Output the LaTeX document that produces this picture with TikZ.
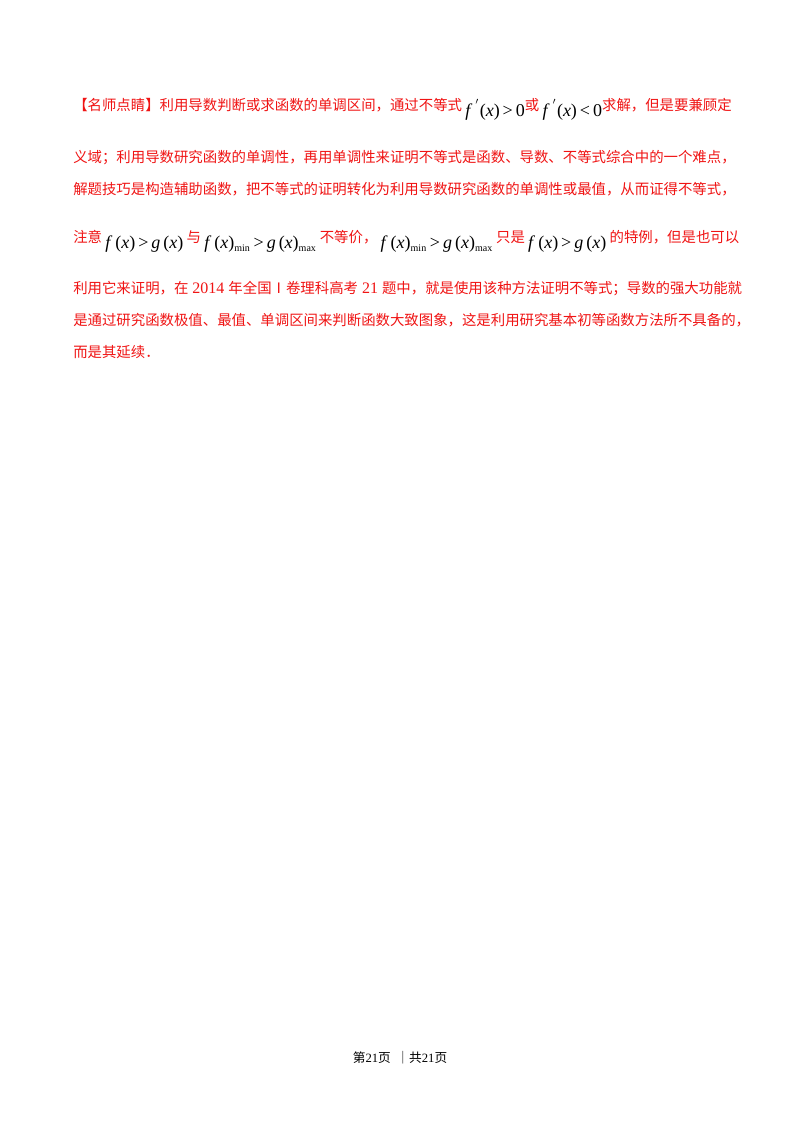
\documentclass[tikz,border=0pt]{standalone}
\usepackage{fontspec}
\setmainfont{Liberation Serif}
\newfontfamily\cjk{Noto Sans CJK SC}
\newcommand{\mth}[1]{\raisebox{-5pt}{\color{black}\rmfamily\fontsize{13.5pt}{16pt}\selectfont #1}}
\newcommand{\fx}{\textit{f}\,(\textit{x})}
\newcommand{\gx}{\textit{g}\,(\textit{x})}
\newcommand{\mn}{\textsubscript{\fontsize{7.5pt}{8pt}\selectfont min}}
\newcommand{\mx}{\textsubscript{\fontsize{7.5pt}{8pt}\selectfont max}}
\definecolor{txtred}{RGB}{240,20,20}
\begin{document}
\begin{tikzpicture}[x=0.75pt,y=-0.75pt,
  ln/.style={anchor=base west,inner sep=0pt,text=txtred,font=\cjk\fontsize{10.8pt}{12pt}\selectfont}]
\useasboundingbox (0,0) rectangle (800,1132);
\fill[white] (0,0) rectangle (800,1132);
\node[ln] (l1) at (73,110) {【名师点睛】利用导数判断或求函数的单调区间，通过不等式\ \mth{\textit{f}\,$^{'}$(\textit{x})\,>\,0}或\ \mth{\textit{f}\,$^{'}$(\textit{x})\,<\,0}求解，但是要兼顾定};
\node[ln] (l2) at (73,162) {义域；利用导数研究函数的单调性，再用单调性来证明不等式是函数、导数、不等式综合中的一个难点，};
\node[ln] (l3) at (73,194) {解题技巧是构造辅助函数，把不等式的证明转化为利用导数研究函数的单调性或最值，从而证得不等式，};
\node[ln] (l4) at (73,242) {注意\ \mth{\fx\,>\,\gx}\ 与\ \mth{\fx\mn\,>\,\gx\mx}\ 不等价，\ \mth{\fx\mn\,>\,\gx\mx}\ 只是\ \mth{\fx\,>\,\gx}\ 的特例，但是也可以};
\node[ln] (l5) at (73,293) {利用它来证明，在{\rmfamily\fontsize{12pt}{12pt}\selectfont\ 2014\ }年全国Ⅰ卷理科高考{\rmfamily\fontsize{12pt}{12pt}\selectfont\ 21\ }题中，就是使用该种方法证明不等式；导数的强大功能就};
\node[ln] (l6) at (73,325) {是通过研究函数极值、最值、单调区间来判断函数大致图象，这是利用研究基本初等函数方法所不具备的，};
\node[ln] (l7) at (73,357) {而是其延续．};
\node[anchor=base,inner sep=0pt,font=\cjk\fontsize{9.5pt}{10pt}\selectfont] (ft) at (400,1062) {第{\rmfamily 21}页\ \ ｜共{\rmfamily 21}页};
\end{tikzpicture}
\end{document}
